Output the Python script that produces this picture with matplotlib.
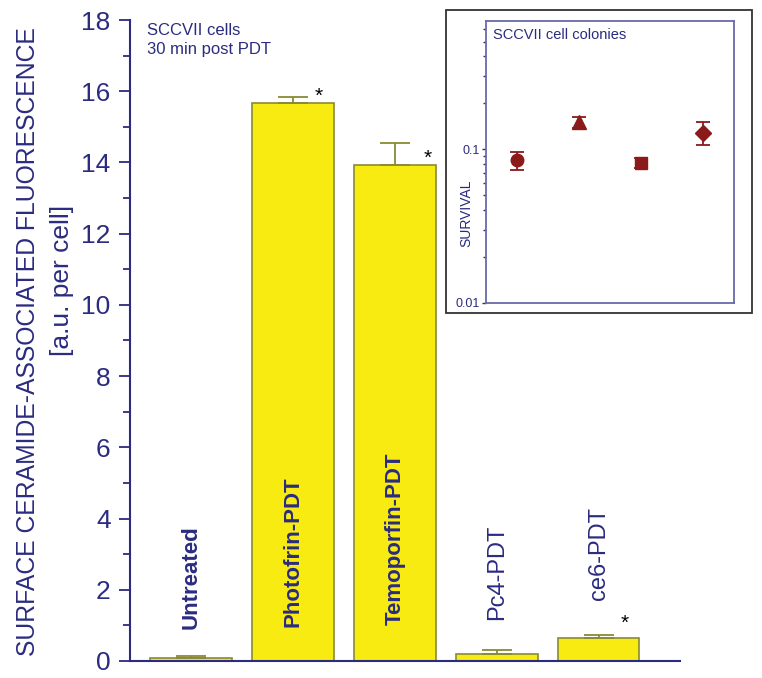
import numpy as np
import matplotlib.pyplot as plt
from matplotlib.ticker import MultipleLocator, LogLocator, NullFormatter, FixedFormatter, FixedLocator
from matplotlib.patches import Rectangle

# main bar data
treatments = ["Untreated", "Photofrin-PDT", "Temoporfin-PDT", "Pc4-PDT", "ce6-PDT"]
fluorescence = [0.08, 15.68, 13.92, 0.20, 0.64]
fluor_err = [0.05, 0.15, 0.62, 0.10, 0.08]
label_bold = [True, True, True, False, False]
significant = [False, True, True, False, True]

# inset survival data
inset_x = [1, 2, 3, 4]
survival = [0.085, 0.150, 0.081, 0.128]
surv_lo = [0.073, 0.138, 0.075, 0.107]
surv_hi = [0.096, 0.161, 0.088, 0.150]
markers = ["o", "^", "s", "D"]

navy = "#2b2b80"
yellow = "#f7eb12"
edge = "#8a8a35"
dark_red = "#8b1a1a"

plt.rcParams['font.family'] = ['Liberation Sans', 'DejaVu Sans']

fig = plt.figure(figsize=(7.62, 6.78), dpi=100)
ax = fig.add_axes([0.1706, 0.0251, 0.722, 0.9454])

x = np.arange(len(treatments))
ax.bar(x, fluorescence, width=0.8, color=yellow, edgecolor=edge, linewidth=1.2, zorder=2)
# upper error bars only
ax.errorbar(x, fluorescence, yerr=[np.zeros(len(x)), fluor_err], fmt="none",
            ecolor=edge, elinewidth=1.3, capsize=11, capthick=1.3, zorder=3)

label_y = [0.9, 0.95, 1.0, 1.15, 1.7]
star_pos = {1: (0.25, 15.6), 2: (0.32, 13.85), 4: (0.26, 0.79)}
for i, name in enumerate(treatments):
    ax.text(x[i], label_y[i], name, rotation=90, ha="center", va="bottom",
            fontsize=17 if not label_bold[i] else 16,
            fontweight="bold" if label_bold[i] else "normal", color=navy, zorder=4)
    if significant[i]:
        dx, sy = star_pos[i]
        ax.text(x[i] + dx, sy, "*", fontsize=15, ha="center", va="bottom", color="black")

ax.set_xlim(-0.6, 4.8)
ax.set_ylim(0, 18)
ax.set_xticks([])
ax.yaxis.set_major_locator(MultipleLocator(2))
ax.yaxis.set_minor_locator(MultipleLocator(1))
ax.tick_params(axis="y", which="major", length=8, width=1.3, colors=navy, labelsize=19, pad=6)
ax.tick_params(axis="y", which="minor", length=5, width=1.3, colors=navy)
for s in ["top", "right"]:
    ax.spines[s].set_visible(False)
for s in ["left", "bottom"]:
    ax.spines[s].set_color(navy)
    ax.spines[s].set_linewidth(1.5)

# y-axis title, two lines placed separately as in the original
fig.text(28 / 762, 1 - 342 / 678, "SURFACE CERAMIDE-ASSOCIATED FLUORESCENCE", rotation=90,
         ha="center", va="center", fontsize=17.8, color=navy)
fig.text(62 / 762, 1 - 280 / 678, "[a.u. per cell]", rotation=90,
         ha="center", va="center", fontsize=19, color=navy)

ax.text(0.03, 0.995, "SCCVII cells\n30 min post PDT", transform=ax.transAxes,
        fontsize=12, color=navy, va="top", ha="left", linespacing=1.3)

# outer frame of inset
fig.patches.append(Rectangle((0.5853, 0.5383), 0.4016, 0.4469, transform=fig.transFigure,
                             fill=True, facecolor="white", edgecolor="#333333", linewidth=1.3, zorder=5))

ins = fig.add_axes([0.6378, 0.5531, 0.3255, 0.4159], zorder=6)
ins.set_yscale("log")
ins.set_ylim(0.01, 0.68)
ins.set_xlim(0.5, 4.5)
msizes = {"o": 9, "^": 9.5, "s": 8, "D": 8}
for xi, yi, lo, hi, m in zip(inset_x, survival, surv_lo, surv_hi, markers):
    ins.errorbar([xi], [yi], yerr=[[yi - lo], [hi - yi]], fmt=m, color=dark_red,
                 markersize=msizes[m], ecolor=dark_red, elinewidth=1.3,
                 capsize=5, capthick=1.3)
ins.set_xticks([])
ins.yaxis.set_major_locator(FixedLocator([0.01, 0.1]))
ins.yaxis.set_major_formatter(FixedFormatter(["0.01", "0.1"]))
ins.yaxis.set_minor_locator(LogLocator(base=10, subs=np.arange(2, 10)))
ins.yaxis.set_minor_formatter(NullFormatter())
ins.tick_params(axis="y", which="major", length=3, width=1, colors=navy, labelsize=9, pad=1.5)
ins.tick_params(axis="y", which="minor", length=2, width=1, colors=navy)
for s in ins.spines.values():
    s.set_color("#6a6aa8")
    s.set_linewidth(1.3)
ins.text(-0.08, 0.32, "SURVIVAL", transform=ins.transAxes, rotation=90,
         ha="center", va="center", fontsize=10, color=navy)
ins.text(0.03, 0.975, "SCCVII cell colonies", transform=ins.transAxes,
         fontsize=10.5, color=navy, va="top", ha="left")

plt.savefig("out.png", dpi=100)
